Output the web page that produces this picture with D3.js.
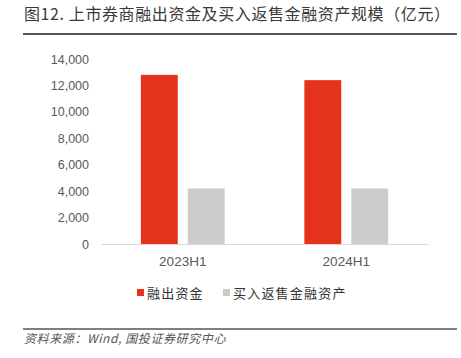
<!DOCTYPE html>
<html>
<head>
<meta charset="utf-8">
<script src="https://cdn.jsdelivr.net/npm/d3@7"></script>
<style>
  body { margin: 0; background: #fff; }
  svg { display: block; font-family: "Noto Sans CJK SC", "Liberation Sans", sans-serif; }
</style>
</head>
<body>
<div class="chart"></div>
<script>
////////// DATA //////////

const categories = ["2023H1", "2024H1"];
const seriesNames = ["融出资金", "买入返售金融资产"];
const lendingFunds = [12800, 12400];   // 融出资金
const reverseRepo = [4200, 4200];      // 买入返售金融资产
const yTicks = [0, 2000, 4000, 6000, 8000, 10000, 12000, 14000];
const colours = ["#e5321a", "#cccccc"];

const titleText = "图12. 上市券商融出资金及买入返售金融资产规模（亿元）";
const sourceText = "资料来源：Wind, 国投证券研究中心";

////////// SETUP //////////

const width = 461, height = 358;

let svg = d3.select(".chart")
    .append("svg")
    .attr("width", width)
    .attr("height", height);

// title + rule
svg.append("text")
    .attr("x", 24)
    .attr("y", 20)
    .attr("font-size", 16)
    .attr("letter-spacing", 0.6)
    .attr("fill", "#3a3a3a")
    .text(titleText);

svg.append("line")
    .attr("x1", 23).attr("x2", 457)
    .attr("y1", 34).attr("y2", 34)
    .attr("stroke", "#555")
    .attr("stroke-width", 2);

////////// SCALES //////////

let x0 = d3.scaleBand()
    .domain(categories)
    .range([101, 428]);

let x1 = d3.scaleBand()
    .domain(seriesNames)
    .range([0, x0.bandwidth()])
    .paddingInner(0.213)
    .paddingOuter(0.85);

let y = d3.scaleLinear()
    .domain([0, 14000])
    .range([244, 59]);

////////// AXES //////////

let yAxis = svg.append("g")
    .attr("transform", "translate(89,0)")
    .call(d3.axisLeft(y).tickValues(yTicks).tickSize(0).tickPadding(0).tickFormat(d3.format(",")));
yAxis.select(".domain").remove();
yAxis.selectAll("text")
    .attr("font-size", 12.5)
    .attr("fill", "#595959")
    .attr("font-family", "Liberation Sans, sans-serif");

let xAxis = svg.append("g")
    .attr("transform", "translate(0,244)")
    .call(d3.axisBottom(x0).tickSize(0).tickPadding(12));
xAxis.select(".domain")
    .attr("stroke", "#d9d9d9")
    .attr("stroke-width", 1);
xAxis.selectAll("text")
    .attr("font-size", 13.5)
    .attr("fill", "#595959")
    .attr("font-family", "Liberation Sans, sans-serif");

////////// BARS //////////

let rows = categories.map((c, i) => ({
  category: c,
  values: [
    { key: seriesNames[0], value: lendingFunds[i], colour: colours[0] },
    { key: seriesNames[1], value: reverseRepo[i], colour: colours[1] }
  ]
}));

let group = svg.append("g")
  .selectAll("g")
    .data(rows)
    .enter()
    .append("g")
    .attr("transform", d => "translate(" + x0(d.category) + ",0)");

group.selectAll("rect")
    .data(d => d.values)
    .enter()
    .append("rect")
    .attr("x", d => x1(d.key))
    .attr("y", d => y(d.value))
    .attr("width", x1.bandwidth())
    .attr("height", d => y(0) - y(d.value))
    .attr("fill", d => d.colour);

////////// LEGEND //////////

let legendX = [137, 223];
let legend = svg.append("g")
  .selectAll("g")
    .data(seriesNames)
    .enter()
    .append("g")
    .attr("transform", (d, i) => "translate(" + legendX[i] + ",293)");

legend.append("rect")
    .attr("x", 0).attr("y", -4)
    .attr("width", 7).attr("height", 7)
    .attr("fill", (d, i) => colours[i]);

legend.append("text")
    .attr("x", 10)
    .attr("y", 0)
    .attr("dy", "0.35em")
    .attr("font-size", 13)
    .attr("letter-spacing", 1.2)
    .attr("fill", "#333")
    .text(d => d);

////////// SOURCE //////////

svg.append("line")
    .attr("x1", 23).attr("x2", 457)
    .attr("y1", 329).attr("y2", 329)
    .attr("stroke", "#555")
    .attr("stroke-width", 1.5);

svg.append("text")
    .attr("x", 24)
    .attr("y", 343)
    .attr("font-size", 12)
    .attr("letter-spacing", 0.6)
    .attr("font-style", "italic")
    .attr("fill", "#555")
    .text(sourceText);
</script>
</body>
</html>
